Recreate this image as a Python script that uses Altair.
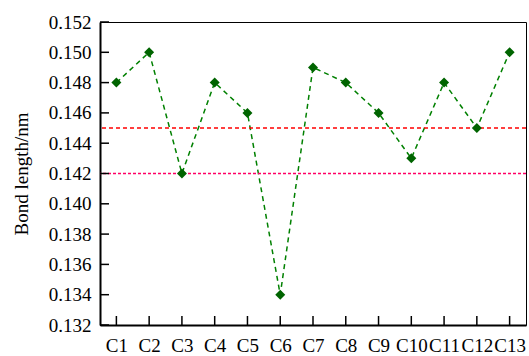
import altair as alt
import pandas as pd

categories = ["C1", "C2", "C3", "C4", "C5", "C6", "C7", "C8", "C9", "C10", "C11", "C12", "C13"]
bond_length = [0.148, 0.150, 0.142, 0.148, 0.146, 0.134, 0.149, 0.148, 0.146, 0.143, 0.148, 0.145, 0.150]
y_ticks = [0.132, 0.134, 0.136, 0.138, 0.140, 0.142, 0.144, 0.146, 0.148, 0.150, 0.152]
ref_upper = [0.145]
ref_lower = [0.142]

FONT = "Liberation Serif"

df = pd.DataFrame({"cat": categories, "val": bond_length})
ticks_df = pd.DataFrame({"t": y_ticks})
up_df = pd.DataFrame({"r": ref_upper})
lo_df = pd.DataFrame({"r": ref_lower})

xscale = alt.Scale(type="point", domain=categories, padding=0.5)
yscale = alt.Scale(domain=[0.132, 0.152], nice=False, zero=False)

x_axis = alt.Axis(title=None, labelAngle=0, labelPadding=11)
y_axis = alt.Axis(title="Bond length/nm", values=y_ticks, format=".3f",
                  labelPadding=9, titlePadding=17)

X = alt.X("cat:N", scale=xscale, sort=categories, axis=x_axis)
Y = lambda f: alt.Y(f, scale=yscale, axis=y_axis)

line = alt.Chart(df).mark_line(color="#008000", strokeDash=[5, 4], strokeWidth=1.5).encode(
    x=X, y=Y("val:Q"))
pts = alt.Chart(df).mark_point(shape="diamond", filled=True, color="#006400", size=100, opacity=1).encode(
    x=X, y=Y("val:Q"))

r_up = alt.Chart(up_df).mark_rule(color="#ff0000", strokeDash=[4, 3], strokeWidth=1.5).encode(
    y=Y("r:Q"))
r_lo = alt.Chart(lo_df).mark_rule(color="#ff0066", strokeDash=[3, 2], strokeWidth=1.5).encode(
    y=Y("r:Q"))

yt = alt.Chart(ticks_df).mark_rule(color="black", strokeWidth=1.5).encode(
    y=Y("t:Q"), x=alt.value(0), x2=alt.value(9))
xt = alt.Chart(df).mark_rule(color="black", strokeWidth=1.5).encode(
    x=X, y=alt.value(303), y2=alt.value(294))

chart = alt.layer(line, r_up, r_lo, yt, xt, pts).properties(
    width=426, height=303,
    autosize=alt.AutoSizeParams(type="none"),
    padding={"left": 100, "top": 22, "right": 3, "bottom": 31},
    background="white",
).configure_view(stroke="black", strokeWidth=1).configure_axis(
    ticks=False, tickSize=0, grid=False, labelOverlap=False, labelFlush=False,
    domainWidth=2, domainColor="black",
    labelFont=FONT, labelFontSize=19, labelColor="black",
    titleFont=FONT, titleFontSize=19, titleFontWeight="normal", titleColor="black",
)

chart.save("out.html", embed_options={"renderer": "svg", "actions": False})
